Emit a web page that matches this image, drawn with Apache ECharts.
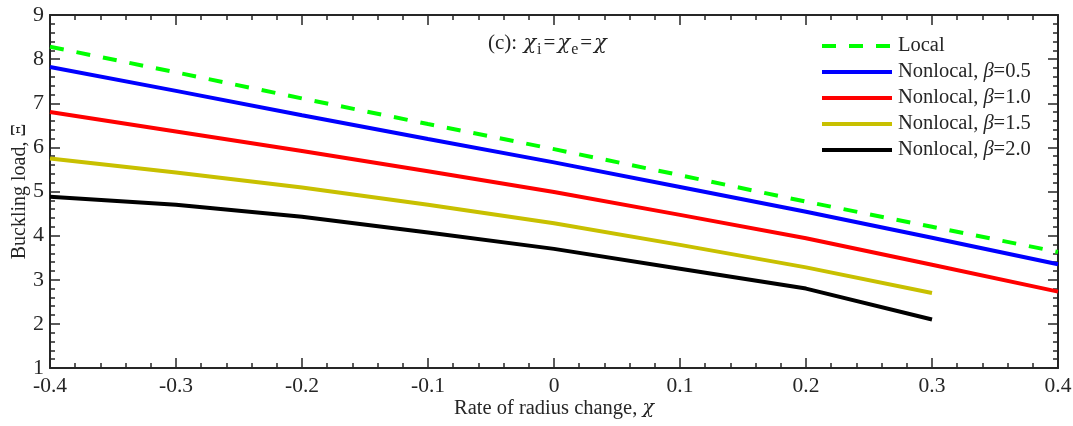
<!DOCTYPE html>
<html>
	<head>
		<meta charset="utf-8">
		<title>Buckling load vs rate of radius change</title>
		<script src="https://cdn.jsdelivr.net/npm/echarts@6/dist/echarts.min.js"></script>
		<style>
			html, body { margin: 0; padding: 0; background: #fff; }
		</style>
	</head>
	<body>
		<div id="main" style="width: 1073px;height:426px;"></div>
		<script>
			// 数据
			var chiFull = [-0.4, -0.3, -0.2, -0.1, 0, 0.1, 0.2, 0.3, 0.4];
			var chiShort = [-0.4, -0.3, -0.2, -0.1, 0, 0.1, 0.2, 0.3];
			var local = [8.28, 7.70, 7.11, 6.53, 5.96, 5.37, 4.77, 4.20, 3.63];
			var beta05 = [7.82, 7.28, 6.73, 6.19, 5.66, 5.10, 4.54, 3.95, 3.35];
			var beta10 = [6.80, 6.36, 5.92, 5.46, 4.99, 4.47, 3.94, 3.34, 2.73];
			var beta15 = [5.75, 5.43, 5.09, 4.70, 4.28, 3.79, 3.28, 2.70];
			var beta20 = [4.88, 4.70, 4.43, 4.07, 3.70, 3.25, 2.80, 2.10];
			var names = ['Local', 'Nonlocal, β=0.5', 'Nonlocal, β=1.0', 'Nonlocal, β=1.5', 'Nonlocal, β=2.0'];
			var colors = ['#00ff00', '#0000ff', '#ff0000', '#c8c000', '#000000'];

			function pairs(xs, ys) {
				return ys.map(function(y, i) { return [xs[i], y]; });
			}

			var font = "'Liberation Serif', 'Times New Roman', serif";
			var greek = "'DejaVu Serif', 'Liberation Serif', serif";
			var axisColor = '#262626';

			var myChart = echarts.init(document.getElementById('main'));

			function mkSeries(name, xs, ys, color, dashed) {
				return {
					name: name,
					type: 'line',
					data: pairs(xs, ys),
					symbol: 'none',
					smooth: false,
					xAxisIndex: 0,
					yAxisIndex: 0,
					lineStyle: { color: color, width: 4, type: dashed ? [14, 13] : 'solid' },
					itemStyle: { color: color },
					z: 3
				};
			}

			var tickLine = { color: axisColor, width: 1.5 };

			// 四周的坐标轴（上、右为镜像，不显示标签）
			function mkAxis(extra) {
				var base = {
					type: 'value',
					axisLine: { show: true, onZero: false, lineStyle: { color: axisColor, width: 2 } },
					axisTick: { show: true, inside: true, length: 10, lineStyle: tickLine },
					minorTick: { show: true, splitNumber: 5, length: 5, lineStyle: tickLine },
					splitLine: { show: false }
				};
				for (var k in extra) base[k] = extra[k];
				return base;
			}

			var option = {
				animation: false,
				backgroundColor: '#fff',
				textStyle: { fontFamily: font },
				grid: { left: 50, right: 15, top: 15, bottom: 58, containLabel: false, outerBoundsMode: 'none' },
				legend: {
					left: 820,
					top: 35,
					padding: 0,
					orient: 'vertical',
					itemWidth: 70,
					itemHeight: 14,
					itemGap: 4,
					itemStyle: { opacity: 0 },
					data: names.map(function(n, i) {
						return {
							name: n,
							itemStyle: { opacity: 0 },
							lineStyle: { width: 4, color: colors[i], type: i === 0 ? [14, 13] : 'solid' }
						};
					}),
					formatter: function(n) {
						return n.replace('β', '{i|β}');
					},
					textStyle: {
						fontFamily: font,
						fontSize: 20.5,
						color: axisColor,
						lineHeight: 22,
						padding: [0, 0, 0, 1],
						rich: {
							i: { fontFamily: font, fontStyle: 'italic', fontSize: 20.5, color: axisColor, lineHeight: 22 }
						}
					}
				},
				graphic: [{
					type: 'text',
					left: 488,
					top: 33,
					style: {
						text: '(c): {i|χ}{s|i}{e|=}{i|χ}{s|e}{e|=}{i|χ}',
						font: '21px ' + font,
						fill: axisColor,
						rich: {
							i: { fontFamily: greek, fontStyle: 'italic', fontSize: 21, fill: axisColor, padding: [0, 1, 0, 1] },
							s: { fontFamily: font, fontSize: 16, fill: axisColor, padding: [12, 1, 0, 0] },
							e: { fontFamily: font, fontSize: 21, fill: axisColor, padding: [0, 1, 0, 1] }
						}
					}
				}],
				xAxis: [mkAxis({
					min: -0.4,
					max: 0.4,
					interval: 0.1,
					name: 'Rate of radius change, {i|χ}',
					nameLocation: 'middle',
					nameGap: 30,
					nameMoveOverlap: false,
					nameTextStyle: {
						fontFamily: font, fontSize: 20.5, color: axisColor,
						rich: { i: { fontFamily: greek, fontStyle: 'italic', fontSize: 19, color: axisColor } }
					},
					axisLabel: {
						fontFamily: font, fontSize: 21.5, color: axisColor, margin: 7,
						formatter: function(v) { return v === 0 ? '0' : String(Math.round(v * 10) / 10); }
					}
				}), mkAxis({
					position: 'top',
					min: -0.4,
					max: 0.4,
					interval: 0.1,
					axisLabel: { show: false }
				})],
				yAxis: [mkAxis({
					min: 1,
					max: 9,
					interval: 1,
					name: 'Buckling load, Ξ',
					nameLocation: 'middle',
					nameGap: 20,
					nameMoveOverlap: false,
					nameTextStyle: { fontFamily: font, fontSize: 20, color: axisColor },
					axisLabel: { fontFamily: font, fontSize: 22, color: axisColor, margin: 6 }
				}), mkAxis({
					position: 'right',
					min: 1,
					max: 9,
					interval: 1,
					axisLabel: { show: false }
				})],
				series: [
					mkSeries(names[0], chiFull, local, colors[0], true),
					mkSeries(names[1], chiFull, beta05, colors[1], false),
					mkSeries(names[2], chiFull, beta10, colors[2], false),
					mkSeries(names[3], chiShort, beta15, colors[3], false),
					mkSeries(names[4], chiShort, beta20, colors[4], false)
				]
			};
			myChart.setOption(option);
		</script>
	</body>
</html>
